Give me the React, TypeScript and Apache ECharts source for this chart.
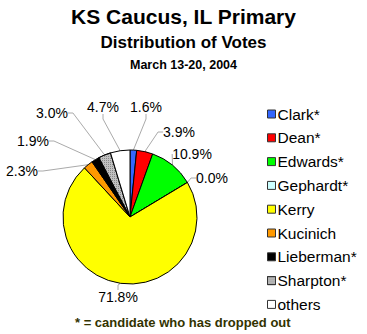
import React, { useEffect, useRef } from "react";
import * as echarts from "echarts";

const candidates = ["Clark*", "Dean*", "Edwards*", "Gephardt*", "Kerry", "Kucinich", "Lieberman*", "Sharpton*", "others"];
const shares = [1.6, 3.9, 10.9, 0.0, 71.8, 2.3, 1.9, 3.0, 4.7];
const colors = ["#3366ff", "#ff0000", "#00ff00", "#ccffff", "#ffff00", "#ff9900", "#000000", "#c0c0c0", "#ffffff"];
const labelSpots: [number, number][] = [
  [146, 107], [179, 132], [192, 154], [212, 178], [118, 297], [22, 171], [33, 141], [52, 113], [103, 107],
];

export default function App() {
  const ref = useRef<HTMLDivElement>(null);
  useEffect(() => {
    const chart = echarts.init(ref.current!, undefined, { renderer: "svg" });
    chart.setOption({
      animation: false,
      backgroundColor: "#ffffff",
      title: [
        { text: "KS Caucus, IL Primary", left: "center", top: 1, textStyle: { fontFamily: "Arial, Liberation Sans", fontWeight: "bold", fontSize: 21, color: "#000" } },
        { text: "Distribution of Votes", left: "center", top: 29, textStyle: { fontFamily: "Arial, Liberation Sans", fontWeight: "bold", fontSize: 17, color: "#000" } },
        { text: "March 13-20, 2004", left: "center", top: 53, textStyle: { fontFamily: "Arial, Liberation Sans", fontWeight: "bold", fontSize: 12.5, color: "#000" } },
      ],
      legend: {
        orient: "vertical",
        left: 262,
        top: 101,
        itemWidth: 8,
        itemHeight: 8,
        itemGap: 7.8,
        icon: "rect",
        selectedMode: false,
        textStyle: { fontFamily: "Arial, Liberation Sans", fontSize: 15.5, color: "#000", padding: [0, 0, 0, -3] },
        itemStyle: { borderColor: "#333", borderWidth: 1 },
      },
      graphic: [
        {
          type: "text",
          left: 75,
          top: 316,
          style: { text: "* = candidate who has dropped out", fill: "#333300", font: "bold 13px Arial, Liberation Sans" },
        },
      ],
      series: [
        {
          type: "pie",
          center: [130, 217],
          radius: 67,
          startAngle: 90,
          clockwise: true,
          minAngle: 0,
          avoidLabelOverlap: false,
          stillShowZeroSum: true,
          itemStyle: { borderColor: "#000", borderWidth: 1 },
          label: {
            show: true,
            position: "outside",
            formatter: (p: any) => p.value.toFixed(1) + "%",
            fontFamily: "Arial, Liberation Sans",
            fontSize: 14,
            color: "#000",
          },
          labelLine: { show: true, length: 10, length2: 5, lineStyle: { color: "#aaaaaa", width: 1 } },
          labelLayout: (params: any) => {
            const s = labelSpots[params.dataIndex];
            return { x: s[0], y: s[1], align: "center", verticalAlign: "middle" };
          },
          emphasis: { disabled: true },
          data: candidates.map((c, i) => ({
            name: c,
            value: shares[i],
            itemStyle: i === 7
              ? { color: colors[i], decal: { symbol: "rect", symbolSize: 1, dashArrayX: [1, 1], dashArrayY: [1, 1], color: "#888888" } }
              : { color: colors[i] },
          })),
        },
      ],
    });
    return () => chart.dispose();
  }, []);
  return <div ref={ref} style={{ width: 367, height: 334, position: "absolute", left: 0, top: 0 }} />;
}
